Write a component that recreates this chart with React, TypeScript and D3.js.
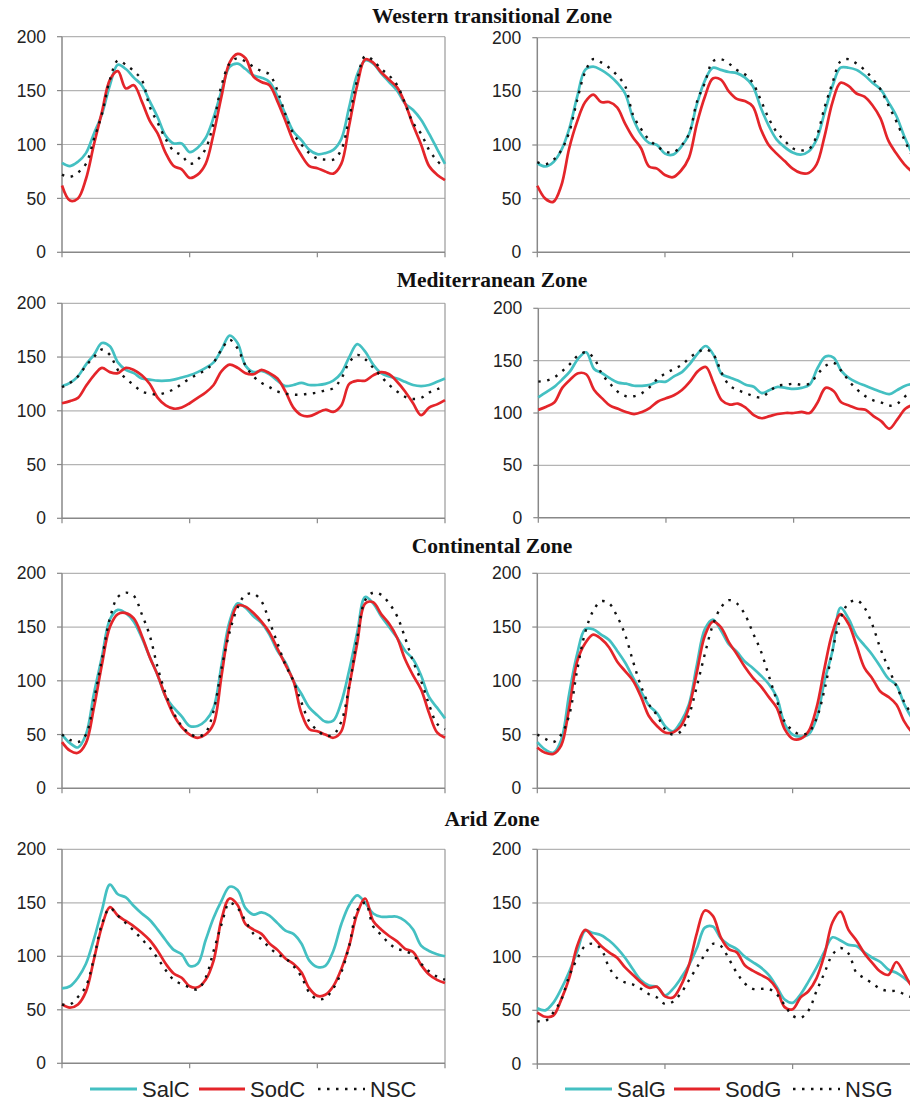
import * as d3 from 'd3';

// 16 samples per year, 3 years
const westSalC = [83, 80, 84, 92, 110, 128, 155, 174, 170, 162, 155, 140, 125, 108, 101, 101, 93, 97, 106, 125, 150, 172, 175, 170, 164, 162, 158, 145, 128, 112, 104, 95, 91, 92, 95, 105, 135, 165, 178, 175, 166, 158, 150, 138, 132, 123, 110, 96, 82];
const westSodC = [62, 48, 50, 68, 100, 130, 160, 168, 152, 155, 140, 122, 110, 92, 80, 77, 69, 72, 82, 110, 145, 176, 184, 180, 163, 158, 155, 140, 122, 103, 90, 80, 78, 75, 73, 82, 118, 155, 179, 176, 167, 160, 153, 138, 118, 100, 80, 72, 67];
const westNSC = [72, 70, 74, 82, 105, 128, 160, 178, 174, 168, 160, 135, 120, 105, 94, 90, 82, 86, 96, 120, 155, 175, 180, 177, 172, 168, 165, 150, 128, 110, 100, 92, 87, 86, 86, 95, 125, 160, 182, 178, 170, 164, 155, 138, 120, 110, 95, 85, 78];
const westSalG = [83, 80, 84, 95, 115, 145, 170, 173, 170, 165, 158, 148, 125, 110, 102, 100, 92, 91, 98, 110, 138, 160, 172, 170, 168, 167, 163, 155, 135, 118, 105, 98, 93, 91, 94, 105, 130, 155, 172, 172, 170, 165, 158, 152, 140, 127, 108, 92, 80];
const westSodG = [62, 50, 47, 62, 97, 122, 140, 147, 140, 140, 135, 120, 107, 97, 80, 78, 72, 70, 76, 88, 120, 145, 162, 161, 150, 143, 141, 136, 115, 100, 92, 85, 78, 74, 74, 82, 108, 140, 158, 155, 148, 145, 137, 125, 104, 92, 82, 75, 70];
const westNSG = [84, 82, 86, 95, 112, 142, 168, 180, 177, 172, 165, 155, 128, 115, 105, 99, 94, 93, 99, 110, 140, 158, 178, 180, 176, 170, 166, 158, 142, 125, 112, 104, 97, 95, 96, 108, 135, 158, 178, 180, 176, 170, 162, 152, 137, 122, 105, 90, 80];

const medSalC = [123, 126, 132, 143, 152, 163, 160, 145, 138, 135, 130, 129, 128, 128, 129, 131, 133, 136, 140, 145, 157, 170, 163, 142, 136, 137, 134, 128, 123, 124, 126, 124, 124, 125, 128, 135, 150, 162, 155, 143, 135, 132, 130, 127, 124, 123, 124, 127, 130];
const medSodC = [107, 109, 112, 123, 133, 140, 136, 135, 140, 138, 133, 125, 112, 105, 102, 103, 107, 112, 117, 124, 137, 143, 140, 135, 134, 138, 135, 130, 118, 103, 96, 95, 98, 101, 99, 105, 125, 128, 128, 133, 136, 134, 127, 118, 107, 96, 103, 106, 110];
const medNSC = [122, 126, 132, 142, 150, 157, 152, 138, 130, 124, 118, 116, 115, 117, 120, 125, 130, 134, 138, 145, 157, 166, 158, 142, 132, 126, 122, 118, 116, 115, 115, 116, 117, 119, 121, 130, 145, 152, 148, 140, 132, 124, 118, 113, 111, 112, 117, 120, 123];
const medSalG = [115, 120, 125, 132, 140, 152, 158, 142, 138, 133, 129, 128, 126, 126, 127, 130, 130, 135, 139, 147, 157, 164, 155, 137, 134, 131, 127, 125, 119, 122, 125, 124, 123, 124, 127, 143, 154, 153, 140, 133, 129, 126, 123, 120, 118, 122, 126, 128, 130];
const medSodG = [103, 106, 110, 124, 132, 138, 137, 122, 114, 107, 104, 101, 99, 101, 105, 111, 114, 117, 122, 130, 140, 144, 128, 112, 108, 109, 105, 98, 95, 97, 99, 100, 100, 101, 100, 110, 124, 121, 110, 107, 104, 103, 97, 92, 85, 94, 104, 108, 110];
const medNSG = [130, 131, 134, 140, 147, 155, 158, 152, 137, 128, 120, 116, 116, 119, 125, 133, 138, 142, 146, 153, 158, 161, 155, 138, 126, 122, 119, 116, 115, 121, 126, 127, 128, 127, 128, 137, 145, 148, 140, 130, 122, 116, 112, 110, 107, 109, 116, 120, 124];

const contSalC = [50, 42, 38, 50, 88, 122, 157, 166, 163, 155, 140, 122, 105, 85, 75, 67, 58, 58, 63, 75, 115, 155, 172, 168, 160, 154, 143, 128, 117, 100, 88, 75, 68, 62, 63, 80, 110, 145, 178, 172, 160, 150, 140, 128, 120, 105, 85, 75, 65];
const contSodC = [43, 35, 33, 42, 75, 115, 150, 162, 163, 158, 142, 122, 105, 85, 68, 57, 50, 47, 50, 60, 105, 150, 170, 169, 163, 155, 145, 130, 115, 100, 70, 55, 53, 50, 47, 53, 95, 135, 172, 173, 162, 153, 140, 120, 105, 92, 70, 52, 47];
const contNSC = [50, 45, 43, 50, 82, 120, 158, 178, 182, 179, 162, 142, 112, 88, 70, 58, 51, 48, 52, 72, 112, 145, 168, 180, 181, 174, 155, 135, 115, 100, 80, 62, 54, 49, 50, 62, 95, 140, 175, 182, 180, 172, 160, 140, 118, 100, 78, 60, 55];
const contSalG = [43, 36, 33, 45, 88, 125, 148, 148, 143, 138, 128, 117, 103, 90, 77, 70, 58, 53, 62, 78, 115, 148, 157, 147, 134, 127, 118, 112, 105, 97, 85, 60, 50, 48, 50, 65, 100, 128, 168, 158, 142, 133, 124, 113, 102, 96, 78, 65, 58];
const contSodG = [38, 33, 32, 40, 75, 118, 135, 143, 139, 131, 118, 109, 100, 85, 67, 58, 52, 52, 58, 75, 108, 142, 155, 150, 136, 125, 113, 103, 95, 85, 75, 55, 46, 46, 53, 75, 112, 145, 162, 153, 133, 112, 102, 90, 85, 78, 62, 52, 48];
const contNSG = [50, 46, 43, 50, 68, 110, 145, 165, 174, 172, 160, 143, 118, 95, 78, 68, 55, 50, 53, 68, 95, 125, 152, 168, 175, 172, 162, 145, 128, 105, 82, 62, 54, 50, 52, 65, 92, 128, 158, 172, 175, 168, 152, 130, 112, 95, 80, 68, 60];

const aridSalC = [70, 72, 80, 93, 116, 143, 167, 158, 155, 147, 140, 134, 125, 115, 106, 102, 91, 93, 115, 136, 152, 165, 162, 145, 139, 141, 138, 131, 124, 121, 112, 96, 90, 91, 105, 130, 148, 157, 150, 140, 137, 137, 137, 133, 125, 110, 105, 102, 100];
const aridSodC = [55, 52, 55, 67, 97, 128, 146, 138, 133, 128, 122, 115, 105, 93, 84, 80, 72, 71, 78, 96, 135, 154, 148, 130, 125, 121, 112, 106, 98, 93, 85, 70, 63, 64, 72, 88, 110, 140, 154, 133, 125, 119, 114, 107, 104, 92, 83, 78, 75];
const aridNSC = [55, 55, 62, 72, 98, 130, 145, 138, 131, 124, 116, 108, 98, 87, 78, 74, 71, 69, 80, 105, 130, 150, 145, 133, 121, 116, 108, 102, 98, 91, 81, 66, 60, 61, 70, 85, 110, 143, 150, 128, 120, 112, 107, 105, 101, 93, 86, 81, 78];
const aridSalG = [52, 50, 57, 70, 86, 105, 124, 122, 120, 115, 108, 99, 88, 78, 73, 72, 64, 70, 80, 92, 108, 127, 128, 117, 111, 107, 100, 95, 90, 83, 72, 60, 57, 65, 77, 90, 105, 118, 115, 111, 110, 104, 99, 95, 88, 85, 80, 74, 70];
const aridSodG = [48, 44, 45, 60, 80, 110, 125, 118, 110, 104, 99, 90, 83, 76, 71, 72, 63, 62, 73, 92, 122, 143, 138, 118, 107, 104, 92, 87, 83, 79, 70, 53, 51, 62, 68, 80, 102, 132, 142, 125, 115, 103, 94, 86, 83, 95, 84, 72, 68];
const aridNSG = [40, 40, 48, 60, 82, 98, 110, 112, 107, 90, 80, 76, 74, 70, 65, 62, 56, 58, 66, 78, 90, 102, 112, 110, 98, 85, 75, 70, 70, 70, 65, 55, 45, 43, 50, 68, 85, 102, 108, 103, 85, 80, 75, 70, 68, 68, 65, 62, 60];

const zoneTitles = ['Western transitional Zone', 'Mediterranean Zone', 'Continental Zone', 'Arid Zone'];
const yTicks = [0, 50, 100, 150, 200];
const xTicks = [0, 16, 32, 48];

const panels = [
  { box: [62, 36.7, 252.3], series: [westSalC, westSodC, westNSC] },
  { box: [537.3, 37.7, 252.3], series: [westSalG, westSodG, westNSG] },
  { box: [62, 303.3, 518.3], series: [medSalC, medSodC, medNSC] },
  { box: [538.3, 308.3, 517.7], series: [medSalG, medSodG, medNSG] },
  { box: [62, 573.3, 788.3], series: [contSalC, contSodC, contNSC] },
  { box: [537.3, 573.3, 788.3], series: [contSalG, contSodG, contNSG] },
  { box: [62, 849.3, 1063.3], series: [aridSalC, aridSodC, aridNSC] },
  { box: [537.3, 849.3, 1064], series: [aridSalG, aridSodG, aridNSG] },
];

const TEAL = '#44c0c2';
const RED = '#e4252a';
const BLACK = '#111';
const styles = [
  { stroke: TEAL, width: 2.7, dash: null },
  { stroke: RED, width: 2.7, dash: null },
  { stroke: BLACK, width: 2.4, dash: '2.5,6.5' },
];
const titleBaselines = [23, 287, 553, 826];
const PLOT_W = 383;

function Panel({ box, series }) {
  const [x0, top, bottom] = box;
  const x = d3.scaleLinear().domain([0, 48]).range([x0, x0 + PLOT_W]);
  const y = d3.scaleLinear().domain([0, 200]).range([bottom, top]);
  const line = d3
    .line<number>()
    .x((d, i) => x(i))
    .y(d => y(d))
    .curve(d3.curveCatmullRom.alpha(0.5));
  const right = x0 + PLOT_W;
  return (
    <g>
      {yTicks.map(t => (
        <g key={t}>
          {t > 0 && <line x1={x0} x2={right} y1={y(t)} y2={y(t)} stroke="#b4b4b4" strokeWidth={1.2} />}
          <line x1={x0 - 5} x2={x0} y1={y(t)} y2={y(t)} stroke="#888" strokeWidth={1.2} />
          <text
            x={x0 - 16}
            y={y(t)}
            dy="0.35em"
            textAnchor="end"
            fontFamily="Liberation Sans, Arial, sans-serif"
            fontSize={17.5}
            fill="#222"
          >
            {t}
          </text>
        </g>
      ))}
      <line x1={right} x2={right} y1={top} y2={bottom} stroke="#999" strokeWidth={1.2} />
      <line x1={x0} x2={x0} y1={top} y2={bottom} stroke="#888" strokeWidth={1.5} />
      <line x1={x0} x2={right} y1={bottom} y2={bottom} stroke="#888" strokeWidth={1.5} />
      {xTicks.map(t => (
        <line key={t} x1={x(t)} x2={x(t)} y1={bottom} y2={bottom + 5} stroke="#888" strokeWidth={1.2} />
      ))}
      {series.map((s, k) => (
        <path
          key={k}
          d={line(s) || ''}
          fill="none"
          stroke={styles[k].stroke}
          strokeWidth={styles[k].width}
          strokeDasharray={styles[k].dash || undefined}
          strokeLinejoin="round"
        />
      ))}
    </g>
  );
}

function Legend({ x, labels }) {
  const offs = [
    [0, 47, 52],
    [109, 155, 160],
    [228, 275, 280],
  ];
  return (
    <g>
      {labels.map((lab, k) => (
        <g key={lab}>
          <line
            x1={x + offs[k][0]}
            x2={x + offs[k][1]}
            y1={1089}
            y2={1089}
            stroke={styles[k].stroke}
            strokeWidth={k === 2 ? 2.4 : 3.2}
            strokeDasharray={styles[k].dash || undefined}
          />
          <text x={x + offs[k][2]} y={1097} fontFamily="Liberation Sans, Arial, sans-serif" fontSize={22} fill="#222">
            {lab}
          </text>
        </g>
      ))}
    </g>
  );
}

export default function App() {
  return (
    <svg width={910} height={1103} style={{ position: 'absolute', left: 0, top: 0, background: '#fff' }}>
      <rect width={910} height={1103} fill="#fff" />
      {zoneTitles.map((t, i) => (
        <text
          key={t}
          x={492}
          y={titleBaselines[i]}
          textAnchor="middle"
          fontFamily="Liberation Serif, Times New Roman, serif"
          fontWeight="bold"
          fontSize={21.5}
          fill="#111"
        >
          {t}
        </text>
      ))}
      {panels.map((p, i) => (
        <Panel key={i} box={p.box} series={p.series} />
      ))}
      <Legend x={90} labels={['SalC', 'SodC', 'NSC']} />
      <Legend x={565} labels={['SalG', 'SodG', 'NSG']} />
    </svg>
  );
}
